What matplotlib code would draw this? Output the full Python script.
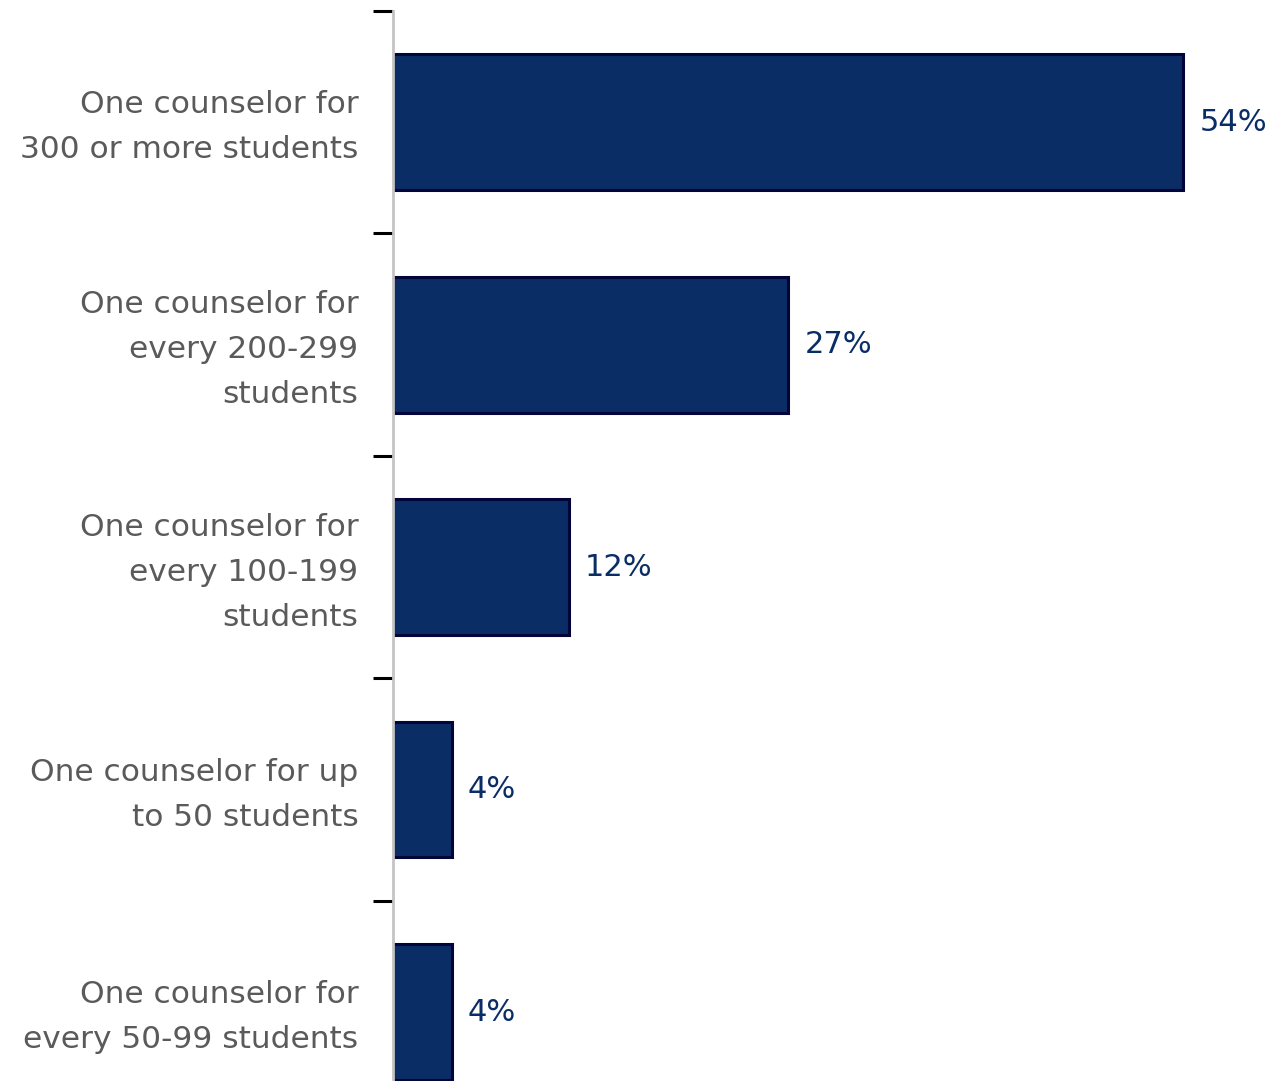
import numpy as np
import matplotlib.pyplot as plt
from matplotlib.transforms import ScaledTranslation

# counselor-to-student ratio categories, top to bottom
categories = [
    "One counselor for\n300 or more students",
    "One counselor for\nevery 200-299\nstudents",
    "One counselor for\nevery 100-199\nstudents",
    "One counselor for up\nto 50 students",
    "One counselor for\nevery 50-99 students",
]
shares = [54, 27, 12, 4, 4]
share_labels = ["54%", "27%", "12%", "4%", "4%"]

BAR_COLOR = "#0a2d66"
EDGE_COLOR = "#03043a"
TEXT_GRAY = "#5a5a5a"

fig = plt.figure(figsize=(12.8, 10.81), dpi=100)
ax = fig.add_axes([393 / 1280, 0, 887 / 1280, 1070 / 1081])

y = np.arange(len(categories))
ax.barh(y, shares, height=0.61, color=BAR_COLOR, edgecolor=EDGE_COLOR, linewidth=2.2)

for yi, v, lab in zip(y, shares, share_labels):
    ax.text(v + 1.1, yi, lab, va="center", ha="left", fontsize=22, color=BAR_COLOR)

ax.set_xlim(0, 60.6)
ax.set_ylim(len(categories) - 1 + 0.31, -0.5)

ax.set_yticks(y)
ax.set_yticklabels(categories, fontsize=22.5, color=TEXT_GRAY, linespacing=1.7)
ax.set_yticks(np.arange(len(categories)) - 0.5, minor=True)
ax.tick_params(axis="y", which="major", length=0, pad=25)
ax.tick_params(axis="y", which="minor", length=14.4, width=2.2, color="black")
ax.set_xticks([])

# nudge the multi-line category labels up so they sit centred on the bars
nudge = ScaledTranslation(0, 0.06, fig.dpi_scale_trans)
for lbl in ax.get_yticklabels():
    lbl.set_transform(lbl.get_transform() + nudge)

for side in ["top", "right", "bottom"]:
    ax.spines[side].set_visible(False)
ax.spines["left"].set_color("#c4c4c4")
ax.spines["left"].set_linewidth(2)

fig.savefig("out.png", dpi=100)
